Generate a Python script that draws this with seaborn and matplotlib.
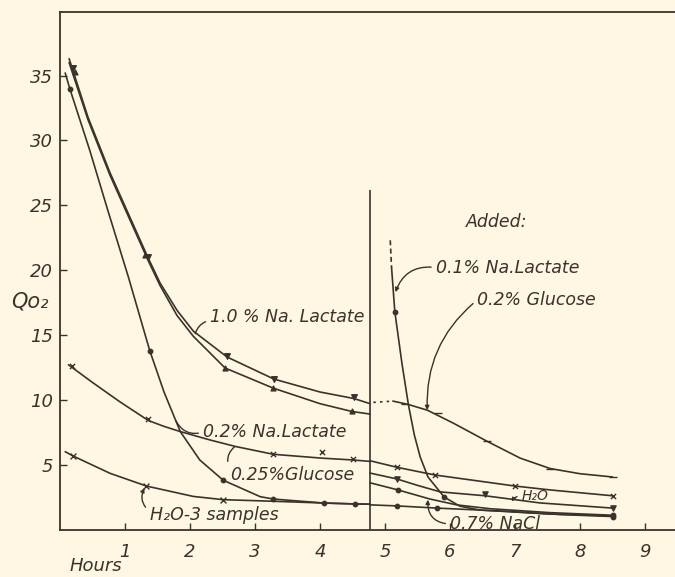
import matplotlib
matplotlib.use("Agg")
import matplotlib.pyplot as plt
import numpy as np
import pandas as pd
import seaborn as sns

# --- curves before the addition (hours, Qo2) ---
lact10_hi_x = [0.14, 0.43, 0.77, 1.35, 1.54, 1.8, 2.05, 2.57, 3.29, 4.0, 4.52, 4.77]
lact10_hi_y = [36.3, 31.8, 27.5, 21.0, 19.0, 16.9, 15.3, 13.3, 11.6, 10.6, 10.1, 9.7]
lact10_hi_mx = [0.2, 1.35, 2.57, 3.29, 4.52]
lact10_hi_my = [35.6, 21.0, 13.4, 11.6, 10.2]

lact10_lo_x = [0.14, 0.43, 0.77, 1.35, 1.54, 1.8, 2.05, 2.54, 3.28, 4.0, 4.49, 4.77]
lact10_lo_y = [36.0, 31.6, 27.3, 20.8, 18.8, 16.5, 14.9, 12.45, 10.9, 9.7, 9.1, 8.9]
lact10_lo_mx = [0.23, 1.31, 2.54, 3.28, 4.49]
lact10_lo_my = [35.3, 21.2, 12.45, 10.9, 9.1]

lact02_x = [0.08, 0.15, 0.46, 0.73, 1.05, 1.38, 1.6, 1.85, 2.15, 2.51, 3.08, 3.28, 4.06, 4.54, 4.77]
lact02_y = [35.2, 34.0, 29.2, 24.7, 19.5, 13.8, 10.6, 7.55, 5.36, 3.8, 2.53, 2.35, 2.04, 1.97, 1.95]
lact02_mx = [0.15, 1.38, 2.51, 3.28, 4.06, 4.54]
lact02_my = [34.0, 13.8, 3.8, 2.35, 2.04, 1.97]

glu25_x = [0.13, 0.51, 0.92, 1.36, 1.6, 1.85, 2.31, 2.7, 3.28, 4.03, 4.51, 4.77]
glu25_y = [12.7, 11.3, 9.85, 8.4, 7.95, 7.55, 6.9, 6.4, 5.8, 5.5, 5.36, 5.25]
glu25_mx = [0.18, 1.36, 3.28, 4.03, 4.51]
glu25_my = [12.6, 8.5, 5.85, 5.95, 5.45]

h2o3_x = [0.08, 0.2, 0.77, 1.33, 2.05, 2.51, 3.26, 4.06, 4.54, 4.77]
h2o3_y = [6.0, 5.67, 4.33, 3.35, 2.55, 2.3, 2.18, 2.04, 1.97, 1.95]
h2o3_mx = [0.2, 1.33, 2.51]
h2o3_my = [5.67, 3.35, 2.3]

# --- curves after the addition ---
glu25r_x = [4.77, 5.18, 5.77, 7.0, 7.54, 8.5]
glu25r_y = [5.3, 4.8, 4.2, 3.35, 3.05, 2.6]
glu25r_mx = [5.18, 5.77, 7.0, 8.5]
glu25r_my = [4.8, 4.2, 3.35, 2.6]

h2or_x = [4.77, 5.18, 5.5, 5.85, 6.54, 7.38, 8.5]
h2or_y = [4.35, 3.9, 3.4, 2.9, 2.6, 2.05, 1.65]
h2or_mx = [5.18, 6.54, 8.5]
h2or_my = [3.9, 2.7, 1.65]

nacl_x = [4.77, 5.2, 5.69, 6.1, 6.62, 7.54, 8.5]
nacl_y = [3.6, 3.05, 2.35, 1.9, 1.6, 1.3, 1.1]
nacl_mx = [5.2, 8.5]
nacl_my = [3.05, 1.1]

flat_x = [4.77, 5.18, 5.8, 6.88, 7.7, 8.5]
flat_y = [1.9, 1.82, 1.65, 1.4, 1.15, 1.0]
flat_mx = [5.18, 5.8, 8.5]
flat_my = [1.82, 1.65, 1.0]

lact01_dash_x = [5.08, 5.1]
lact01_dash_y = [22.3, 20.2]
lact01_x = [5.1, 5.15, 5.26, 5.36, 5.45, 5.54, 5.66, 5.91, 6.15, 6.46, 7.5, 8.5]
lact01_y = [20.2, 16.8, 12.8, 9.6, 7.3, 5.6, 4.05, 2.5, 1.8, 1.5, 1.2, 1.05]
lact01_mx = [5.15, 5.91]
lact01_my = [16.8, 2.5]

glu02_dot_x = [4.82, 5.12]
glu02_dot_y = [9.8, 9.9]
glu02_x = [5.12, 5.35, 5.65, 6.05, 6.57, 7.08, 7.54, 8.0, 8.5]
glu02_y = [9.9, 9.65, 9.2, 8.2, 6.8, 5.5, 4.7, 4.3, 4.05]
glu02_mx = [5.3, 5.82, 6.57, 7.54, 8.5]
glu02_my = [9.7, 9.0, 6.8, 4.7, 4.05]

addition_time = 4.77
addition_top = 26.2

x_ticks = [1, 2, 3, 4, 5, 6, 7, 8, 9]
y_ticks = [5, 10, 15, 20, 25, 30, 35]

INK = "#3a332b"
PAPER = "#fef7e4"

sns.set_style("ticks")
plt.rcParams["font.family"] = ["DejaVu Sans"]
plt.rcParams["font.style"] = "italic"

fig = plt.figure(figsize=(6.75, 5.77), dpi=100, facecolor=PAPER)
ax = fig.add_axes([60 / 675, 1 - 529.5 / 577, 615 / 675, 517.5 / 577])
ax.set_facecolor(PAPER)

lw = 1.2


def curve(xs, ys, ls="-"):
    df = pd.DataFrame({"hours": xs, "qo2": ys})
    sns.lineplot(data=df, x="hours", y="qo2", sort=False, estimator=None,
                 color=INK, lw=lw, ls=ls, ax=ax)


def marks(xs, ys, m, s=16):
    df = pd.DataFrame({"hours": xs, "qo2": ys})
    sns.scatterplot(data=df, x="hours", y="qo2", marker=m, s=s, color=INK,
                    edgecolor=INK, linewidth=1.0, ax=ax, zorder=3)


curve(lact10_hi_x, lact10_hi_y); marks(lact10_hi_mx, lact10_hi_my, "v")
curve(lact10_lo_x, lact10_lo_y); marks(lact10_lo_mx, lact10_lo_my, "^", 12)
curve(lact02_x, lact02_y); marks(lact02_mx, lact02_my, "o", 10)
curve(glu25_x, glu25_y); marks(glu25_mx, glu25_my, "x", 14)
curve(h2o3_x, h2o3_y); marks(h2o3_mx, h2o3_my, "x", 18)

curve(glu25r_x, glu25r_y); marks(glu25r_mx, glu25r_my, "x", 14)
curve(h2or_x, h2or_y); marks(h2or_mx, h2or_my, "v", 14)
curve(nacl_x, nacl_y); marks(nacl_mx, nacl_my, "o", 10)
curve(flat_x, flat_y); marks(flat_mx, flat_my, "o", 10)
curve(lact01_dash_x, lact01_dash_y, ls=(0, (3, 2)))
curve(lact01_x, lact01_y); marks(lact01_mx, lact01_my, "o", 10)
curve(glu02_dot_x, glu02_dot_y, ls=(0, (1.5, 2.5)))
curve(glu02_x, glu02_y); marks(glu02_mx, glu02_my, "_", 30)

ax.vlines(addition_time, 0, addition_top, color=INK, lw=lw)

# labels with hand-drawn style leaders
fs = 12.5
notes = [
    ("1.0 % Na. Lactate", (2.31, 16.4), (2.08, 15.1), "-", 0.3, (0, 0.3)),
    ("0.2% Na.Lactate", (2.2, 7.5), (1.78, 8.4), "-", -0.4, (0, 0.5)),
    ("0.25%Glucose", (2.62, 4.2), (2.69, 6.4), "-", -0.4, (0, 0.8)),
    ("H₂O-3 samples", (1.38, 1.12), (1.3, 3.2), "-|>", -0.4, (0, 0.7)),
    ("0.1% Na.Lactate", (5.78, 20.2), (5.16, 18.3), "-|>", 0.4, (0, 0.5)),
    ("0.2% Glucose", (6.42, 17.7), (5.65, 9.2), "-|>", 0.25, (0, 0.5)),
    ("0.7% NaCl", (6.0, 0.42), (5.66, 2.3), "-|>", -0.5, (0, 0.5)),
]
for txt, pos, tgt, style, rad, rel in notes:
    ax.annotate(txt, xy=tgt, xytext=pos, ha="left", va="center", fontsize=fs,
                color=INK,
                arrowprops=dict(arrowstyle=style, color=INK, lw=1.0,
                                mutation_scale=6, shrinkA=1, shrinkB=0,
                                relpos=rel,
                                connectionstyle=f"arc3,rad={rad}"))
ax.annotate("H₂O", xy=(6.95, 2.15), xytext=(7.1, 2.6), ha="left", va="center",
            fontsize=10, color=INK,
            arrowprops=dict(arrowstyle="-|>", color=INK, lw=1.0, mutation_scale=5,
                            shrinkA=1, shrinkB=0, relpos=(0, 0.5),
                            connectionstyle="arc3,rad=0.3"))
ax.text(6.71, 23.7, "Added:", ha="center", va="center", fontsize=fs, color=INK)

ax.set_xlim(0, 9.46)
ax.set_ylim(0, 39.9)
ax.set_xticks(x_ticks)
ax.set_yticks(y_ticks)
ax.set_xticklabels([str(v) for v in x_ticks])
ax.set_yticklabels([str(v) for v in y_ticks])
ax.tick_params(axis="x", direction="in", length=5, width=1, pad=10,
               labelsize=13, colors=INK)
ax.tick_params(axis="y", direction="in", length=5, width=1, pad=5,
               labelsize=13, colors=INK)
ax.set_xlabel("")
ax.set_ylabel("")
for side in ["left", "bottom", "top"]:
    ax.spines[side].set_color(INK)
    ax.spines[side].set_linewidth(1.3)
ax.spines["right"].set_visible(False)

fig.text(30 / 675, 1 - 302 / 577, "Qo₂", ha="center", va="center",
         fontsize=15, color=INK)
fig.text(96 / 675, 1 - 566 / 577, "Hours", ha="center", va="center",
         fontsize=13, color=INK)

fig.savefig("out.png", dpi=100, facecolor=PAPER)
